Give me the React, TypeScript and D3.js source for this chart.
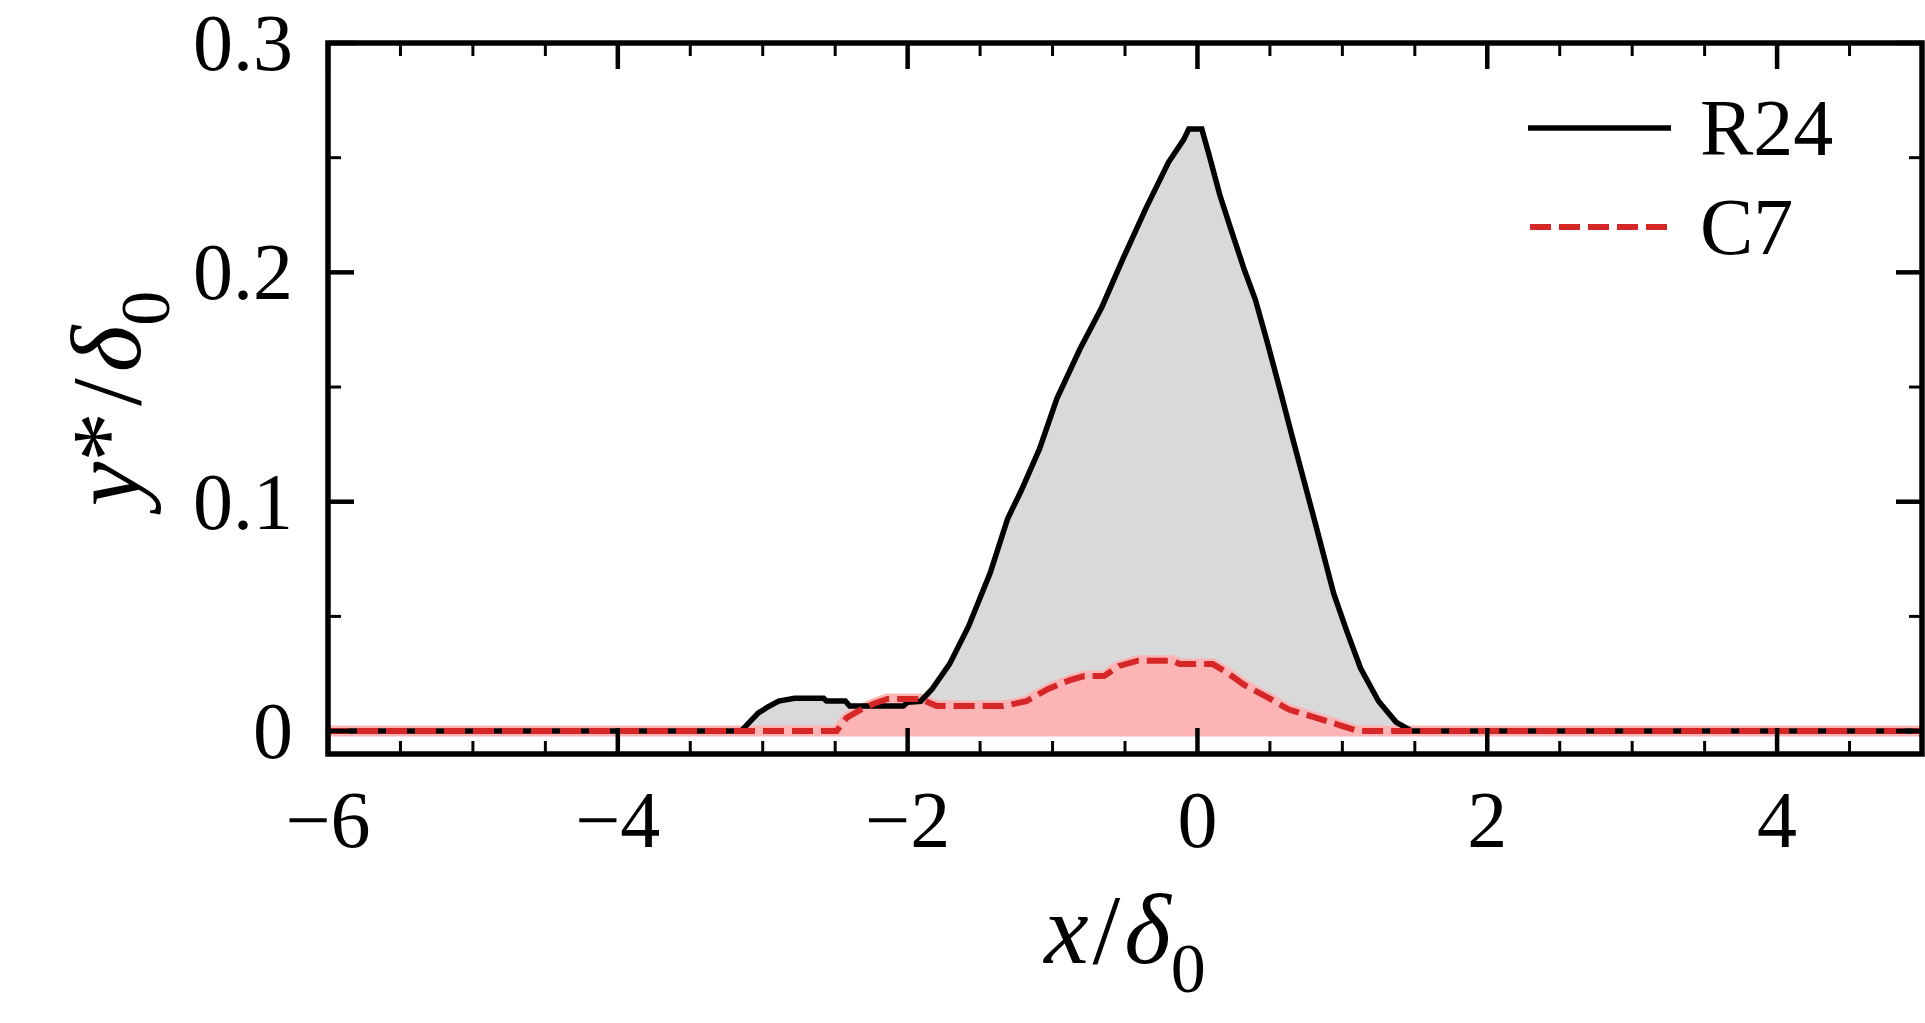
import * as d3 from 'd3';

// R24 (solid black) profile
const xR24 = [-6, -3.15, -3.03, -2.97, -2.89, -2.78, -2.58, -2.56, -2.43, -2.4, -2.03, -2.0, -1.91, -1.83, -1.71, -1.58, -1.43, -1.31, -1.215, -1.09, -0.97, -0.81, -0.66, -0.51, -0.355, -0.2, -0.094, -0.06, 0.03, 0.078, 0.155, 0.23, 0.324, 0.4, 0.48, 0.57, 0.66, 0.82, 0.94, 1.03, 1.125, 1.25, 1.37, 1.48, 5];
const yR24 = [0, 0, 0.0079, 0.0103, 0.0131, 0.0143, 0.0143, 0.0131, 0.0131, 0.0109, 0.0109, 0.0126, 0.013, 0.0184, 0.0293, 0.0456, 0.069, 0.0926, 0.105, 0.123, 0.145, 0.1667, 0.1848, 0.2065, 0.228, 0.248, 0.258, 0.2625, 0.2625, 0.2517, 0.2336, 0.219, 0.201, 0.188, 0.17, 0.1487, 0.1269, 0.089, 0.06, 0.0437, 0.0275, 0.013, 0.0039, 0, 0];

// C7 (dashed red) profile
const xC7 = [-6, -2.49, -2.42, -2.32, -2.23, -2.14, -1.91, -1.8, -1.34, -1.18, -1.03, -0.88, -0.78, -0.645, -0.54, -0.41, -0.17, -0.12, 0.106, 0.2, 0.32, 0.48, 0.63, 0.82, 1.0, 1.11, 5];
const yC7 = [0, 0, 0.0058, 0.0094, 0.012, 0.014, 0.014, 0.0109, 0.0109, 0.013, 0.0184, 0.0222, 0.024, 0.024, 0.0284, 0.0307, 0.0307, 0.0292, 0.0292, 0.0257, 0.0202, 0.0148, 0.0094, 0.0058, 0.0022, 0, 0];

const xMajor = [-6, -4, -2, 0, 2, 4];
const yMajor = [0, 0.1, 0.2, 0.3];
const yLabels = ['0', '0.1', '0.2', '0.3'];
const legendNames = ['R24', 'C7'];

const W = 1925;
const H = 1023;
const left = 328, right = 1922, top = 43, bottom = 754;
const FONT = '"Liberation Serif", "Times New Roman", serif';
const RED = '#d62728';

export default function App() {
  const x = d3.scaleLinear().domain([-6, 5]).range([left, right]);
  const y = d3.scaleLinear().domain([-0.01, 0.3]).range([bottom, top]);

  const toPts = (xs: number[], ys: number[]) => xs.map((v, i) => [v, ys[i]] as [number, number]);
  const r24 = toPts(xR24, yR24);
  const c7 = toPts(xC7, yC7);

  const area = d3.area<[number, number]>().x(d => x(d[0])).y0(y(0)).y1(d => y(d[1]));
  const line = d3.line<[number, number]>().x(d => x(d[0])).y(d => y(d[1]));

  const xMinor = d3.range(-6, 5.001, 0.5).filter(v => !xMajor.includes(v));
  const yMinor = [0.05, 0.15, 0.25];
  const majLen = 26, minLen = 13;

  return (
    <svg width={W} height={H} style={{ position: 'absolute', left: 0, top: 0, background: '#fff' }}>
      <defs>
        <clipPath id="plot">
          <rect x={left} y={top} width={right - left} height={bottom - top} />
        </clipPath>
      </defs>
      <g clipPath="url(#plot)">
        <path d={area(r24) ?? ''} fill="#d9d9d9" stroke="#d9d9d9" strokeWidth={4} />
        <path d={area(c7) ?? ''} fill="#fcb4b4" stroke="#fcb4b4" strokeWidth={11} strokeLinejoin="round" />
        <path d={line(r24) ?? ''} fill="none" stroke="#000" strokeWidth={5.5} />
        <path d={line(c7) ?? ''} fill="none" stroke={RED} strokeWidth={6} strokeDasharray="21 8" />
      </g>

      {/* ticks, inward on all sides */}
      {xMajor.map(v => (
        <g key={'xM' + v} stroke="#000" strokeWidth={4.5}>
          <line x1={x(v)} x2={x(v)} y1={bottom} y2={bottom - majLen} />
          <line x1={x(v)} x2={x(v)} y1={top} y2={top + majLen} />
        </g>
      ))}
      {xMinor.map(v => (
        <g key={'xm' + v} stroke="#000" strokeWidth={3}>
          <line x1={x(v)} x2={x(v)} y1={bottom} y2={bottom - minLen} />
          <line x1={x(v)} x2={x(v)} y1={top} y2={top + minLen} />
        </g>
      ))}
      {yMajor.map(v => (
        <g key={'yM' + v} stroke="#000" strokeWidth={4.5}>
          <line x1={left} x2={left + majLen} y1={y(v)} y2={y(v)} />
          <line x1={right} x2={right - majLen} y1={y(v)} y2={y(v)} />
        </g>
      ))}
      {yMinor.map(v => (
        <g key={'ym' + v} stroke="#000" strokeWidth={3}>
          <line x1={left} x2={left + minLen} y1={y(v)} y2={y(v)} />
          <line x1={right} x2={right - minLen} y1={y(v)} y2={y(v)} />
        </g>
      ))}

      <rect x={left} y={top} width={right - left} height={bottom - top} fill="none" stroke="#000" strokeWidth={5.5} />

      {/* tick labels */}
      <g fontFamily={FONT} fontSize={80} fill="#000">
        {xMajor.map(v => (
          <text key={'xl' + v} x={x(v)} y={847} textAnchor="middle">
            {v < 0 ? '\u2212' + Math.abs(v) : String(v)}
          </text>
        ))}
        {yMajor.map((v, i) => (
          <text key={'yl' + v} x={293} y={y(v) + 27} textAnchor="end">
            {yLabels[i]}
          </text>
        ))}
      </g>

      {/* axis labels */}
      <text x={(left + right) / 2} y={963} textAnchor="middle" fontFamily={FONT} fontSize={100}>
        <tspan fontStyle="italic">x</tspan>
        <tspan dx={4}>/</tspan>
        <tspan dx={4} fontStyle="italic">δ</tspan>
        <tspan fontSize={70} dy={29}>0</tspan>
      </text>
      <text
        transform={`translate(140, ${(top + bottom) / 2}) rotate(-90)`}
        textAnchor="middle"
        fontFamily={FONT}
        fontSize={100}
      >
        <tspan fontStyle="italic">y</tspan>
        <tspan>*</tspan>
        <tspan dx={6}>/</tspan>
        <tspan dx={6} fontStyle="italic">δ</tspan>
        <tspan fontSize={70} dy={29}>0</tspan>
      </text>

      {/* legend */}
      <line x1={1528} x2={1671} y1={128} y2={128} stroke="#000" strokeWidth={5.5} />
      <line x1={1530} x2={1669} y1={227} y2={227} stroke={RED} strokeWidth={6} strokeDasharray="21 8" />
      <g fontFamily={FONT} fontSize={80}>
        <text x={1700} y={155}>{legendNames[0]}</text>
        <text x={1700} y={254}>{legendNames[1]}</text>
      </g>
    </svg>
  );
}
